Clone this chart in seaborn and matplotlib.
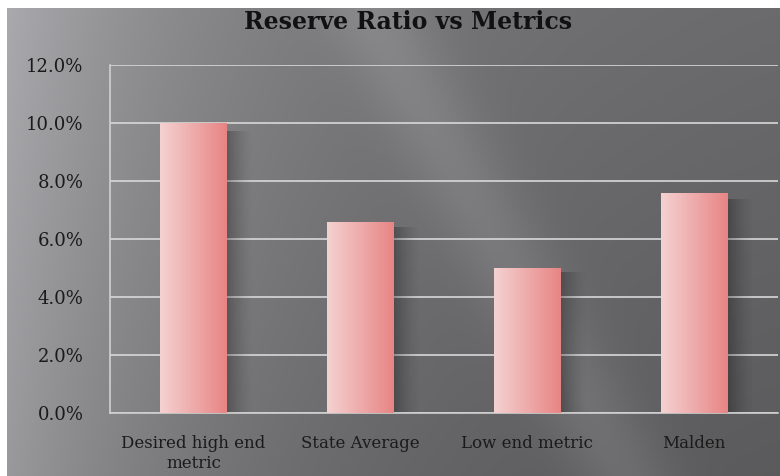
import numpy as np
import pandas as pd
import seaborn as sns
import matplotlib.pyplot as plt
from matplotlib.ticker import PercentFormatter, FixedLocator

categories = ['Desired high end\nmetric', 'State Average', 'Low end metric', 'Malden']
reserve_ratio = [10.0, 6.6, 5.0, 7.6]
yticks = [0, 2, 4, 6, 8, 10, 12]

df = pd.DataFrame({'category': categories, 'ratio': reserve_ratio})

sns.set_style('white')
plt.rcParams['font.family'] = ['DejaVu Serif']

fig = plt.figure(figsize=(7.8, 4.76), dpi=100)

# gray slide background with a faint diagonal light streak
bg = fig.add_axes([0, 0, 1, 1], zorder=-10)
h, w = 476, 780
yy, xx = np.mgrid[0:h, 0:w]
base = 104 + 68 * np.exp(-xx / 260.0) - 0.035 * yy
d = (xx - 385) - 0.55 * (yy - 40)
streak = 16 * np.exp(-(d / 50.0) ** 2)
v = np.clip(base + streak, 70, 200) / 255.0
img = np.dstack([v, v, v * 1.02])
img = np.clip(img, 0, 1)
img[:8, :, :] = 1.0
img[:, :7, :] = 1.0
bg.imshow(img, aspect='auto', extent=[0, 1, 0, 1], origin='upper')
bg.set_axis_off()

ax = fig.add_axes([0.141, 0.1324, 0.856, 0.731])
ax.patch.set_alpha(0)
sns.barplot(data=df, x='category', y='ratio', color='#eaa0a0', width=0.4, ax=ax, zorder=3)

# horizontal gradient on each bar, soft shadow to the right
grad = np.linspace(0, 1, 64)[None, :]
light = np.array([0.96, 0.82, 0.82])
dark = np.array([0.91, 0.52, 0.52])
gimg = light[None, None, :] * (1 - grad[..., None]) + dark[None, None, :] * grad[..., None]
shade = np.zeros((1, 64, 4))
shade[..., 3] = 0.28 * (1 - np.linspace(0, 1, 64)) ** 1.5
for p in ax.patches:
    x0, y0 = p.get_x(), p.get_y()
    bw, bh = p.get_width(), p.get_height()
    ax.imshow(shade, extent=[x0 + bw, x0 + bw + 0.16, 0, bh * 0.97], aspect='auto', zorder=2)
    im = ax.imshow(gimg, extent=[x0, x0 + bw, y0, y0 + bh], aspect='auto', zorder=4)
    im.set_clip_path(p)
    p.set_edgecolor('none')

ax.set_xlim(-0.5, 3.5)
ax.set_ylim(0, 12)
ax.yaxis.set_major_locator(FixedLocator(yticks))
ax.yaxis.set_major_formatter(PercentFormatter(decimals=1))
ax.grid(axis='y', color='#d8d8d8', lw=1.2, zorder=1)
ax.set_axisbelow(True)

for s in ['top', 'right']:
    ax.spines[s].set_visible(False)
for s in ['left', 'bottom']:
    ax.spines[s].set_color('#d0d0d0')
    ax.spines[s].set_linewidth(1.2)

ax.set_xticks(np.arange(-0.5, 4, 1), minor=True)
ax.tick_params(axis='x', which='major', length=0, pad=16, labelsize=12, colors='#1a1a1a')
ax.tick_params(axis='x', which='minor', length=6, color='#d0d0d0', width=1.2, direction='out')
ax.tick_params(axis='y', length=7, color='#d0d0d0', width=1.2, labelsize=13, colors='#1a1a1a', pad=12)
for t in ax.get_xticklabels():
    t.set_linespacing(1.2)

ax.set_xlabel('')
ax.set_ylabel('')
fig.text(0.523, 0.953, 'Reserve Ratio vs Metrics', ha='center', va='center',
         fontsize=17, fontweight='bold', color='#111111')

plt.savefig('out.png', dpi=100)
